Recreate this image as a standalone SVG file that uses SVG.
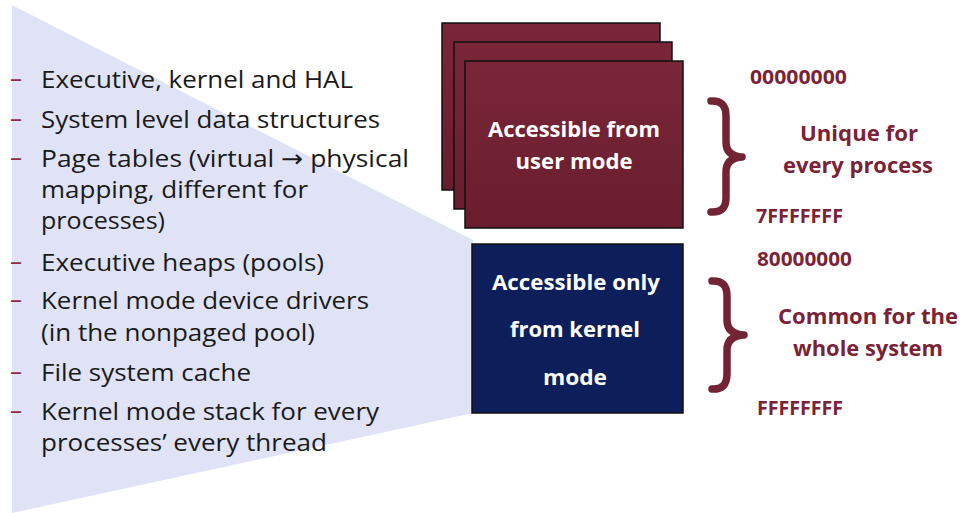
<svg xmlns="http://www.w3.org/2000/svg" width="965" height="513" viewBox="0 0 965 513">
<defs>
<linearGradient id="gU" x1="0" y1="0" x2="0" y2="1">
<stop offset="0" stop-color="#7a2638"/>
<stop offset="1" stop-color="#681d2e"/>
</linearGradient>
<style>
text{font-family:"Open Sans","Liberation Sans",sans-serif}
.li{font-size:24px;fill:#1a1a1a}
.da{font-size:24px;fill:#8a2a45}
.ar{font-family:"DejaVu Sans",sans-serif}
.bx{font-size:21px;font-weight:bold;fill:#ffffff;text-anchor:middle}
.ad{font-size:19px;font-weight:bold;fill:#7a2337}
.lb{font-size:22px;font-weight:bold;fill:#7a2337;text-anchor:middle}
.ub{fill:url(#gU);stroke:#111;stroke-width:1.5}
.br{fill:none;stroke:#722434;stroke-width:7.5;stroke-linecap:round;stroke-linejoin:round}
</style>
</defs>
<rect width="965" height="513" fill="#ffffff"/>
<g id="wedge">
<polygon points="12,5 473,240 473,413 12,513" fill="#dfe3f5"/>
</g>
<g id="list">
<text class="da" x="10" y="87" textLength="12" lengthAdjust="spacingAndGlyphs">–</text><text class="li" x="41" y="88" textLength="312" lengthAdjust="spacingAndGlyphs">Executive, kernel and HAL</text>
<text class="da" x="10" y="127" textLength="12" lengthAdjust="spacingAndGlyphs">–</text><text class="li" x="41" y="128" textLength="339" lengthAdjust="spacingAndGlyphs">System level data structures</text>
<text class="da" x="10" y="166" textLength="12" lengthAdjust="spacingAndGlyphs">–</text><text class="li" x="41" y="167" textLength="368" lengthAdjust="spacingAndGlyphs">Page tables (virtual <tspan class="ar">→</tspan> physical</text>
<text class="li" x="41" y="198" textLength="267" lengthAdjust="spacingAndGlyphs">mapping, different for</text>
<text class="li" x="41" y="229" textLength="124" lengthAdjust="spacingAndGlyphs">processes)</text>
<text class="da" x="10" y="270" textLength="12" lengthAdjust="spacingAndGlyphs">–</text><text class="li" x="41" y="271" textLength="283" lengthAdjust="spacingAndGlyphs">Executive heaps (pools)</text>
<text class="da" x="10" y="308" textLength="12" lengthAdjust="spacingAndGlyphs">–</text><text class="li" x="41" y="309" textLength="328" lengthAdjust="spacingAndGlyphs">Kernel mode device drivers</text>
<text class="li" x="41" y="341" textLength="274" lengthAdjust="spacingAndGlyphs">(in the nonpaged pool)</text>
<text class="da" x="10" y="380" textLength="12" lengthAdjust="spacingAndGlyphs">–</text><text class="li" x="41" y="381" textLength="210" lengthAdjust="spacingAndGlyphs">File system cache</text>
<text class="da" x="10" y="419" textLength="12" lengthAdjust="spacingAndGlyphs">–</text><text class="li" x="41" y="420" textLength="338" lengthAdjust="spacingAndGlyphs">Kernel mode stack for every</text>
<text class="li" x="41" y="451" textLength="286" lengthAdjust="spacingAndGlyphs">processes’ every thread</text>
</g>
<g id="user-mode">
<rect class="ub" x="442" y="23" width="218" height="167"/>
<rect class="ub" x="454" y="42" width="218" height="167"/>
<rect class="ub" x="465" y="61" width="218" height="167"/>
<text class="bx" x="574" y="137" textLength="172" lengthAdjust="spacingAndGlyphs">Accessible from</text>
<text class="bx" x="574" y="169" textLength="117" lengthAdjust="spacingAndGlyphs">user mode</text>
</g>
<g id="kernel-mode">
<rect x="472" y="244" width="211" height="169" fill="#0d1f5a" stroke="#111" stroke-width="1.5"/>
<text class="bx" x="576" y="290" textLength="168" lengthAdjust="spacingAndGlyphs">Accessible only</text>
<text class="bx" x="575" y="337" textLength="130" lengthAdjust="spacingAndGlyphs">from kernel</text>
<text class="bx" x="575" y="385" textLength="64" lengthAdjust="spacingAndGlyphs">mode</text>
</g>
<g id="addresses">
<text class="ad" x="750" y="84" textLength="97" lengthAdjust="spacingAndGlyphs">00000000</text>
<text class="ad" x="756" y="223" textLength="87" lengthAdjust="spacingAndGlyphs">7FFFFFFF</text>
<text class="ad" x="757" y="266" textLength="95" lengthAdjust="spacingAndGlyphs">80000000</text>
<text class="ad" x="757" y="415" textLength="86" lengthAdjust="spacingAndGlyphs">FFFFFFFF</text>
</g>
<g id="braces">
<path class="br" d="M 711 101 Q 726 100 726 116 L 726 142 Q 726 156 742 157 Q 726 158 726 172 L 726 198 Q 726 213 711 212"/>
<path class="br" d="M 712 281 Q 727 280 727 296 L 727 320 Q 727 334 744 335 Q 727 336 727 350 L 727 374 Q 727 390 712 389"/>
</g>
<g id="labels">
<text class="lb" x="859" y="141" textLength="118" lengthAdjust="spacingAndGlyphs">Unique for</text>
<text class="lb" x="858" y="173" textLength="150" lengthAdjust="spacingAndGlyphs">every process</text>
<text class="lb" x="868" y="324" textLength="180" lengthAdjust="spacingAndGlyphs">Common for the</text>
<text class="lb" x="868" y="356" textLength="150" lengthAdjust="spacingAndGlyphs">whole system</text>
</g>
</svg>
